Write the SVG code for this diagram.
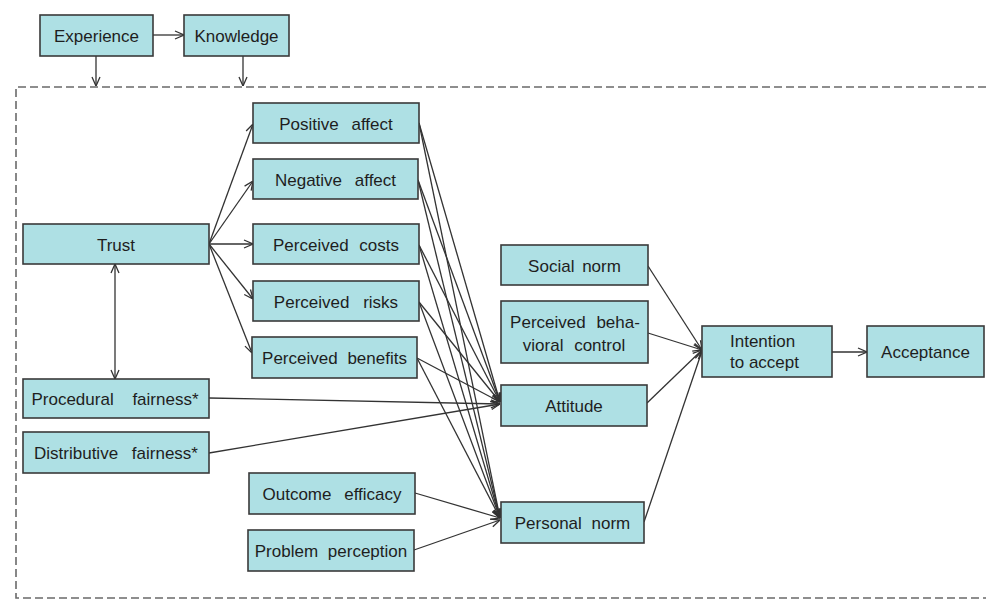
<svg xmlns="http://www.w3.org/2000/svg" width="986" height="602" viewBox="0 0 986 602">
<style>
.box rect{fill:#aee0e4;stroke:#3a3a3a;stroke-width:1.6}
.box text{font-family:"Liberation Sans",Arial,sans-serif;font-size:17px;fill:#1e1e1e;text-anchor:middle}
.c line{stroke:#333;stroke-width:1.3;fill:none}
.a{marker-end:url(#ah)}
.frame{fill:none;stroke:#6a6a6a;stroke-width:1.6;stroke-dasharray:8 4}
</style>
<defs>
<marker id="ah" viewBox="0 0 10 10" refX="10" refY="5" markerWidth="10" markerHeight="10" markerUnits="userSpaceOnUse" orient="auto-start-reverse">
<path d="M1,1 L10,5 L1,9" fill="none" stroke="#333" stroke-width="1.3"/>
</marker>
</defs>
<rect width="986" height="602" fill="#fff"/>
<path class="frame" d="M986,87 H16 V598 H986"/>
<g class="c">
<line class="a" x1="153" y1="35" x2="184" y2="35"/>
<line class="a" x1="96" y1="56" x2="96" y2="86"/>
<line class="a" x1="243" y1="56" x2="243" y2="86"/>
<line class="a" x1="209" y1="244" x2="253" y2="124"/>
<line class="a" x1="209" y1="244" x2="253" y2="181"/>
<line class="a" x1="209" y1="244" x2="253" y2="244"/>
<line class="a" x1="209" y1="244" x2="253" y2="299"/>
<line class="a" x1="209" y1="244" x2="252" y2="353"/>
<line class="a" x1="115" y1="264" x2="115" y2="379" marker-start="url(#ah)"/>
<line class="a" x1="419" y1="123" x2="500" y2="402"/>
<line class="a" x1="419" y1="123" x2="500" y2="518"/>
<line class="a" x1="418" y1="180" x2="500" y2="402"/>
<line class="a" x1="418" y1="180" x2="500" y2="518"/>
<line class="a" x1="419" y1="245" x2="500" y2="402"/>
<line class="a" x1="419" y1="245" x2="500" y2="518"/>
<line class="a" x1="419" y1="302" x2="500" y2="402"/>
<line class="a" x1="419" y1="302" x2="500" y2="518"/>
<line class="a" x1="417" y1="358" x2="500" y2="402"/>
<line class="a" x1="417" y1="358" x2="500" y2="518"/>
<line class="a" x1="209" y1="398" x2="500" y2="404"/>
<line class="a" x1="209" y1="453" x2="500" y2="404"/>
<line class="a" x1="415" y1="493" x2="500" y2="518"/>
<line class="a" x1="414" y1="550" x2="500" y2="520"/>
<line class="a" x1="648" y1="266" x2="702" y2="350"/>
<line class="a" x1="648" y1="333" x2="702" y2="350"/>
<line class="a" x1="647" y1="403" x2="702" y2="350"/>
<line class="a" x1="644" y1="522" x2="702" y2="351"/>
<line class="a" x1="832" y1="352" x2="867" y2="352"/>
</g>
<g id="experience" class="box"><rect x="40" y="15" width="113" height="41"/><text x="96.5" y="42">Experience</text></g>
<g id="knowledge" class="box"><rect x="184" y="15" width="105" height="41"/><text x="236.5" y="42">Knowledge</text></g>
<g id="positive-affect" class="box"><rect x="253" y="103" width="166" height="40"/><text x="336" y="129.5" word-spacing="8">Positive affect</text></g>
<g id="negative-affect" class="box"><rect x="253" y="159" width="165" height="40"/><text x="335.5" y="185.5" word-spacing="8">Negative affect</text></g>
<g id="trust" class="box"><rect x="23" y="224" width="186" height="40"/><text x="116" y="250.5">Trust</text></g>
<g id="perceived-costs" class="box"><rect x="253" y="224" width="166" height="40"/><text x="336" y="250.5" word-spacing="6">Perceived costs</text></g>
<g id="perceived-risks" class="box"><rect x="253" y="281" width="166" height="40"/><text x="336" y="307.5" word-spacing="9">Perceived risks</text></g>
<g id="perceived-benefits" class="box"><rect x="252" y="337" width="165" height="41"/><text x="334.5" y="364" word-spacing="5">Perceived benefits</text></g>
<g id="procedural-fairness" class="box"><rect x="23" y="379" width="186" height="39"/><text x="115" y="405" word-spacing="14">Procedural fairness*</text></g>
<g id="distributive-fairness" class="box"><rect x="23" y="432" width="186" height="41"/><text x="116" y="459" word-spacing="9">Distributive fairness*</text></g>
<g id="outcome-efficacy" class="box"><rect x="249" y="473" width="166" height="41"/><text x="332" y="500" word-spacing="8">Outcome efficacy</text></g>
<g id="problem-perception" class="box"><rect x="248" y="530" width="166" height="41"/><text x="331" y="557" word-spacing="5">Problem perception</text></g>
<g id="social-norm" class="box"><rect x="501" y="245" width="147" height="40"/><text x="574.5" y="271.5" word-spacing="3">Social norm</text></g>
<g id="perceived-behavioral-control" class="box"><rect x="501" y="301" width="147" height="62"/><text x="575" y="328" word-spacing="6">Perceived beha-</text><text x="574" y="351" word-spacing="6">vioral control</text></g>
<g id="attitude" class="box"><rect x="501" y="385" width="146" height="41"/><text x="574" y="412">Attitude</text></g>
<g id="personal-norm" class="box"><rect x="501" y="502" width="143" height="41"/><text x="572.5" y="529" word-spacing="5">Personal norm</text></g>
<g id="intention" class="box"><rect x="702" y="326" width="130" height="51"/><text x="730" y="347" style="text-anchor:start">Intention</text><text x="730" y="368" style="text-anchor:start">to accept</text></g>
<g id="acceptance" class="box"><rect x="867" y="326" width="117" height="51"/><text x="925.5" y="358">Acceptance</text></g>
</svg>
